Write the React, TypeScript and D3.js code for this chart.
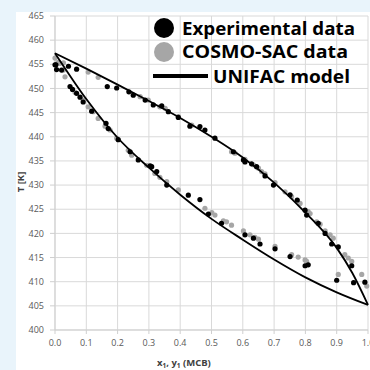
import React from "react";
import * as d3 from "d3";

// UNIFAC model: bubble (liquid, x1) and dew (vapour, y1) curves
const modelLiquidX = [0, 0.1, 0.2, 0.3, 0.4, 0.5, 0.6, 0.7, 0.8, 0.9, 1.0];
const modelLiquidT = [457.3, 447.8, 439.8, 433.6, 428.0, 423.0, 418.7, 414.6, 410.9, 407.8, 405.2];
const modelVaporY = [0, 0.1, 0.2, 0.3, 0.4, 0.5, 0.6, 0.7, 0.8, 0.9, 0.95, 1.0];
const modelVaporT = [457.3, 454.1, 450.8, 447.4, 443.9, 440.0, 435.7, 430.5, 424.3, 417.0, 411.8, 405.2];

// Experimental data
const expLiquidX = [0.0, 0.005, 0.021, 0.048, 0.056, 0.069, 0.08, 0.09, 0.117, 0.163, 0.17, 0.202, 0.24, 0.266, 0.304, 0.309, 0.325, 0.357, 0.426, 0.463, 0.49, 0.532, 0.607, 0.634, 0.655, 0.703, 0.751, 0.799, 0.809, 0.9, 0.954];
const expLiquidT = [454.9, 453.9, 453.8, 450.4, 449.8, 449.0, 448.2, 447.2, 445.3, 442.8, 441.7, 439.4, 436.9, 435.2, 434.0, 433.8, 432.8, 430.0, 427.9, 427.0, 424.0, 422.1, 419.7, 419.0, 417.8, 416.8, 415.2, 413.3, 413.5, 410.3, 409.8];
const expVaporY = [0.003, 0.043, 0.069, 0.167, 0.197, 0.236, 0.25, 0.288, 0.314, 0.341, 0.362, 0.394, 0.431, 0.463, 0.479, 0.511, 0.57, 0.602, 0.607, 0.628, 0.644, 0.671, 0.698, 0.751, 0.774, 0.799, 0.804, 0.841, 0.863, 0.884, 0.905, 0.948, 0.99];
const expVaporT = [454.9, 454.6, 454.0, 450.4, 450.1, 449.3, 448.6, 447.6, 446.6, 446.4, 445.2, 444.0, 442.2, 442.1, 441.4, 439.7, 436.9, 435.2, 434.8, 434.4, 433.8, 431.9, 430.0, 428.0, 426.9, 424.8, 423.8, 422.1, 420.0, 417.8, 417.2, 413.3, 409.9];

// COSMO-SAC predictions
const cosmoLiquidX = [0.0, 0.01, 0.027, 0.032, 0.064, 0.09, 0.106, 0.122, 0.138, 0.16, 0.176, 0.197, 0.234, 0.245, 0.293, 0.319, 0.335, 0.357, 0.394, 0.479, 0.501, 0.511, 0.538, 0.548, 0.564, 0.602, 0.623, 0.639, 0.65, 0.703, 0.756, 0.777, 0.799, 0.804, 0.905];
const cosmoLiquidT = [456.3, 455.4, 453.8, 452.4, 449.2, 447.6, 446.2, 445.2, 443.8, 442.2, 441.4, 439.7, 437.2, 436.2, 434.1, 432.4, 431.6, 430.7, 429.0, 425.2, 424.3, 423.8, 422.6, 422.4, 421.7, 420.5, 419.7, 419.2, 418.8, 417.3, 415.6, 415.1, 414.5, 414.2, 411.5];
const cosmoVaporY = [0.016, 0.027, 0.106, 0.138, 0.272, 0.298, 0.335, 0.352, 0.394, 0.437, 0.564, 0.575, 0.607, 0.634, 0.65, 0.66, 0.671, 0.703, 0.735, 0.756, 0.783, 0.809, 0.815, 0.836, 0.847, 0.863, 0.879, 0.889, 0.926, 0.937, 0.948, 0.98, 0.996];
const cosmoVaporT = [455.2, 455.3, 453.4, 452.3, 448.3, 447.6, 446.2, 445.9, 444.2, 442.4, 436.9, 436.6, 435.3, 434.2, 433.5, 432.8, 432.3, 430.5, 428.6, 427.6, 426.2, 424.5, 424.1, 422.4, 421.9, 420.5, 419.7, 419.0, 415.6, 414.9, 414.2, 411.5, 409.1];

const xTicks = [0, 0.1, 0.2, 0.3, 0.4, 0.5, 0.6, 0.7, 0.8, 0.9, 1.0];
const yTicks = [400, 405, 410, 415, 420, 425, 430, 435, 440, 445, 450, 455, 460, 465];

const legendLabels = ["Experimental data", "COSMO-SAC data", "UNIFAC model"];

const EXP_COLOR = "#000000";
const COSMO_COLOR = "#a6a6a6";
const GRID = "#d9d9d9";
const TICK_TEXT = "#595959";
const FONT = "'Open Sans', 'Noto Sans', sans-serif";

export default function App() {
  const W = 370;
  const H = 370;
  const x = d3.scaleLinear().domain([0, 1]).range([55, 368]);
  const y = d3.scaleLinear().domain([400, 465]).range([330, 16]);

  const line = d3
    .line<[number, number]>()
    .x((d) => x(d[0]))
    .y((d) => y(d[1]))
    .curve(d3.curveMonotoneX);

  const liquidPath = line(modelLiquidX.map((v, i) => [v, modelLiquidT[i]]));
  const vaporPath = line(modelVaporY.map((v, i) => [v, modelVaporT[i]]));

  const cosmoPts = [
    ...cosmoLiquidX.map((v, i) => [v, cosmoLiquidT[i]]),
    ...cosmoVaporY.map((v, i) => [v, cosmoVaporT[i]]),
  ];
  const expPts = [
    ...expLiquidX.map((v, i) => [v, expLiquidT[i]]),
    ...expVaporY.map((v, i) => [v, expVaporT[i]]),
  ];

  const [x0, x1] = x.range();
  const [yb, yt] = y.range();

  return (
    <svg
      width={W}
      height={H}
      style={{ position: "absolute", left: 0, top: 0, display: "block" }}
    >
      <rect x={0} y={0} width={W} height={H} fill="#e9f4fb" />
      <rect x={16} y={12} width={W - 16} height={H - 12} fill="#ffffff" />

      {/* grid */}
      {yTicks.map((t) => (
        <line key={"gy" + t} x1={x0} x2={x1} y1={y(t)} y2={y(t)} stroke={GRID} strokeWidth={1} />
      ))}
      {xTicks.map((t) => (
        <line key={"gx" + t} x1={x(t)} x2={x(t)} y1={yt} y2={yb} stroke={GRID} strokeWidth={1} />
      ))}

      {/* axes and tick marks */}
      <line x1={x0} x2={x0} y1={yt} y2={yb} stroke="#cfcfcf" />
      <line x1={x0} x2={x1} y1={yb} y2={yb} stroke="#cfcfcf" />
      {yTicks.map((t) => (
        <line key={"ty" + t} x1={x0 - 5} x2={x0} y1={y(t)} y2={y(t)} stroke="#cfcfcf" />
      ))}
      {xTicks.map((t) => (
        <line key={"tx" + t} x1={x(t)} x2={x(t)} y1={yb} y2={yb + 4} stroke="#cfcfcf" />
      ))}

      {/* tick labels */}
      {yTicks.map((t) => (
        <text
          key={"ly" + t}
          x={44}
          y={y(t)}
          dy="0.35em"
          textAnchor="end"
          fontFamily={FONT}
          fontSize={9}
          fill={TICK_TEXT}
        >
          {t}
        </text>
      ))}
      {xTicks.map((t) => (
        <text
          key={"lx" + t}
          x={x(t)}
          y={343}
          dy="0.35em"
          textAnchor="middle"
          fontFamily={FONT}
          fontSize={9}
          fill={TICK_TEXT}
        >
          {t.toFixed(1)}
        </text>
      ))}

      {/* axis titles */}
      <text
        x={157}
        y={366}
        fontFamily={FONT}
        fontSize={9.5}
        fontWeight="bold"
        fill="#404040"
      >
        x<tspan fontSize={6.5} dy={2}>1</tspan>
        <tspan dy={-2}>, y</tspan>
        <tspan fontSize={6.5} dy={2}>1</tspan>
        <tspan dy={-2}> (MCB)</tspan>
      </text>
      <text
        transform="translate(24,182) rotate(-90)"
        textAnchor="middle"
        fontFamily={FONT}
        fontSize={9.5}
        fontWeight="bold"
        fill="#404040"
      >
        T [K]
      </text>

      {/* data markers */}
      {cosmoPts.map((p, i) => (
        <circle key={"c" + i} cx={x(p[0])} cy={y(p[1])} r={2.6} fill={COSMO_COLOR} />
      ))}
      {expPts.map((p, i) => (
        <circle key={"e" + i} cx={x(p[0])} cy={y(p[1])} r={2.6} fill={EXP_COLOR} />
      ))}

      {/* UNIFAC model curves */}
      <path d={liquidPath ?? ""} fill="none" stroke="#000" strokeWidth={1.8} />
      <path d={vaporPath ?? ""} fill="none" stroke="#000" strokeWidth={1.8} />

      {/* legend */}
      <circle cx={164} cy={28} r={10} fill={EXP_COLOR} />
      <circle cx={164} cy={52} r={10} fill={COSMO_COLOR} />
      <line x1={153} x2={208} y1={76} y2={76} stroke="#000" strokeWidth={4} />
      <text x={182} y={35} fontFamily={FONT} fontSize={18} fontWeight="bold" fill="#000"
        textLength={173} lengthAdjust="spacingAndGlyphs">
        {legendLabels[0]}
      </text>
      <text x={182} y={58} fontFamily={FONT} fontSize={18} fontWeight="bold" fill="#000"
        textLength={166} lengthAdjust="spacingAndGlyphs">
        {legendLabels[1]}
      </text>
      <text x={213} y={83} fontFamily={FONT} fontSize={18} fontWeight="bold" fill="#000"
        textLength={137} lengthAdjust="spacingAndGlyphs">
        {legendLabels[2]}
      </text>
    </svg>
  );
}
